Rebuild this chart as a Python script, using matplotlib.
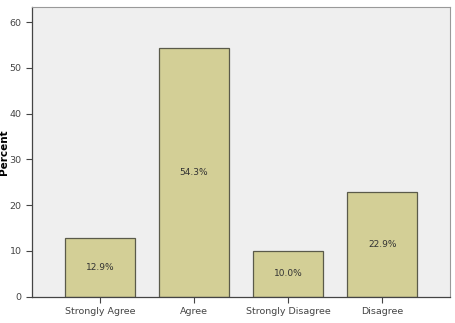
import matplotlib.pyplot as plt
import numpy as np

categories = ["Strongly Agree", "Agree", "Strongly Disagree", "Disagree"]
percents = [12.9, 54.3, 10.0, 22.9]
yticks = [0, 10, 20, 30, 40, 50, 60]

fig = plt.figure(figsize=(4.55, 3.23), dpi=100)
ax = fig.add_axes([32 / 455, 1 - 296.5 / 323, 418 / 455, 289.5 / 323])
ax.set_facecolor("#efefef")

x = np.arange(len(categories))
ax.bar(x, percents, width=0.745, color="#d3cf96", edgecolor="#5a5a4a", linewidth=0.9)
for xi, p in zip(x, percents):
    ax.text(xi, p / 2, f"{p:.1f}%", ha="center", va="center", fontsize=6.5, color="#333333")

ax.set_xlim(-0.72, 3.72)
ax.set_ylim(0, 63.3)
ax.set_yticks(yticks)
ax.set_xticks(x)
ax.set_xticklabels(categories)
ax.tick_params(axis="both", labelsize=6.8, labelcolor="#444444", color="#444444",
               length=4, width=0.8, direction="out")
ax.set_ylabel("Percent", fontsize=7.5, fontweight="bold")
ax.yaxis.set_label_coords(-0.055, 0.5)

for side in ["left", "bottom"]:
    ax.spines[side].set_color("#444444")
    ax.spines[side].set_linewidth(0.9)
for side in ["top", "right"]:
    ax.spines[side].set_color("#999999")
    ax.spines[side].set_linewidth(0.8)

fig.savefig("out.png", dpi=100)
